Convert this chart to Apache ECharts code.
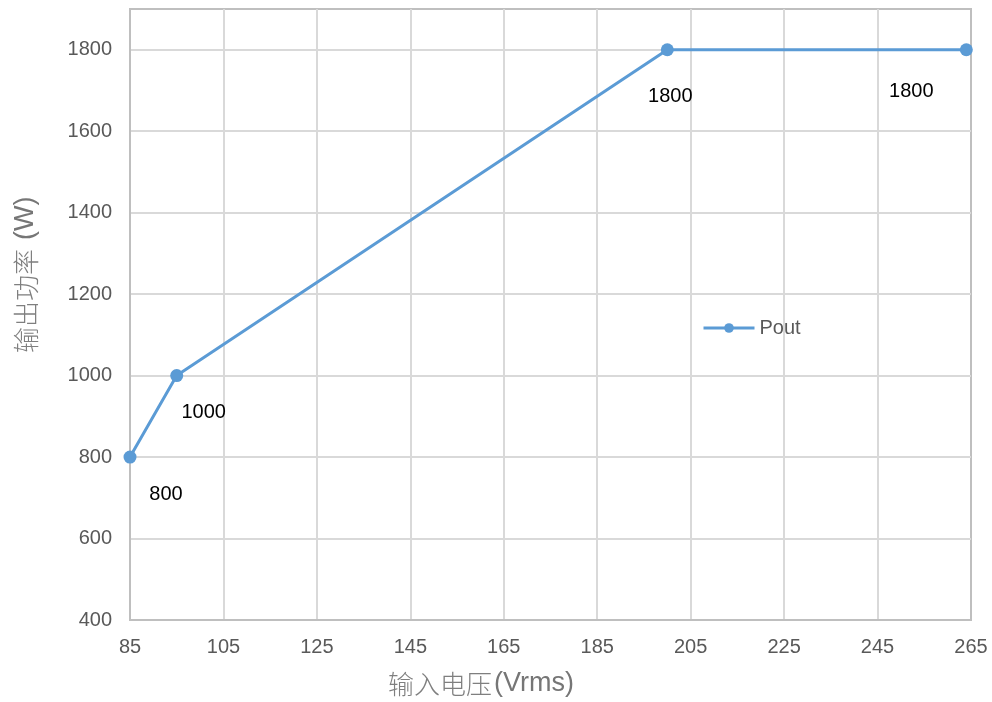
<!DOCTYPE html>
<html><head><meta charset="utf-8">
<script src="https://cdn.jsdelivr.net/npm/echarts@6/dist/echarts.min.js"></script>
<style>html,body{margin:0;padding:0;background:#fff}#c{width:992px;height:702px}</style>
</head><body><div id="c"></div>
<script>
const vin = [85, 95, 200, 264];
const pout = [800, 1000, 1800, 1800];
const seriesName = 'Pout';
const xTitleCjk = '输入电压';
const xTitleLatin = '(Vrms)';
const yTitleCjk = '输出功率';
const yTitleLatin = '(W)';
const labelOffsets = [[36, 37], [27, 37], [3, 47], [-55, 42]];

const chart = echarts.init(document.getElementById('c'));
const font = '"Liberation Sans", Arial, sans-serif';
const titleRich = {
  a: {fontFamily: '"Noto Sans CJK SC", sans-serif', fontWeight: 300, fontSize: 26, fill: '#7f7f7f'},
  b: {fontFamily: font, fontSize: 27, fill: '#767676', padding: [0, 0, 0, 2]},
  p: {fontFamily: font, fontSize: 27, fill: '#767676', padding: [0, 0, 0, 9]}
};
chart.setOption({
  animation: false,
  backgroundColor: '#fff',
  grid: {left: 130, top: 9, right: 21, bottom: 82, show: true, borderColor: '#bfbfbf', borderWidth: 2, backgroundColor: 'transparent'},
  legend: {
    data: [seriesName], left: 702, top: 318, padding: 0, itemWidth: 51, itemHeight: 12, itemGap: 4,
    lineStyle: {width: 3},
    textStyle: {color: '#595959', fontSize: 20, fontFamily: font, padding: [2, 0, 0, 0]}
  },
  xAxis: {
    type: 'value', min: 85, max: 265, interval: 20,
    axisLine: {show: true, lineStyle: {color: '#bfbfbf', width: 2}},
    axisTick: {show: false},
    axisLabel: {color: '#595959', fontSize: 20, fontFamily: font, margin: 17},
    splitLine: {show: true, showMinLine: false, showMaxLine: false, lineStyle: {color: '#d9d9d9', width: 2}}
  },
  yAxis: {
    type: 'value', min: 400, max: 1900, interval: 200,
    axisLine: {show: true, lineStyle: {color: '#bfbfbf', width: 2}},
    axisTick: {show: false},
    axisLabel: {color: '#595959', fontSize: 20, fontFamily: font, margin: 18, showMaxLabel: false,
      formatter: v => v > 1800 ? '' : String(v)},
    splitLine: {show: true, showMinLine: false, showMaxLine: false, lineStyle: {color: '#d9d9d9', width: 2}}
  },
  graphic: [
    {type: 'text', x: 388, y: 684,
      style: {text: '{a|' + xTitleCjk + '}{b|' + xTitleLatin + '}', rich: titleRich, align: 'left', verticalAlign: 'middle'}},
    {type: 'text', rotation: Math.PI / 2, x: 26, y: 353,
      style: {text: '{a|' + yTitleCjk + '}{p|' + yTitleLatin + '}', rich: titleRich, align: 'left', verticalAlign: 'middle'}}
  ],
  series: [{
    name: seriesName, type: 'line',
    data: vin.map((x, i) => ({value: [x, pout[i]], label: {offset: labelOffsets[i]}})),
    symbol: 'circle', symbolSize: 13,
    lineStyle: {color: '#5b9bd5', width: 3},
    itemStyle: {color: '#5b9bd5'},
    label: {show: true, position: 'inside', color: '#000', fontSize: 20, fontFamily: font,
      formatter: p => String(p.value[1])}
  }]
});
</script></body></html>
